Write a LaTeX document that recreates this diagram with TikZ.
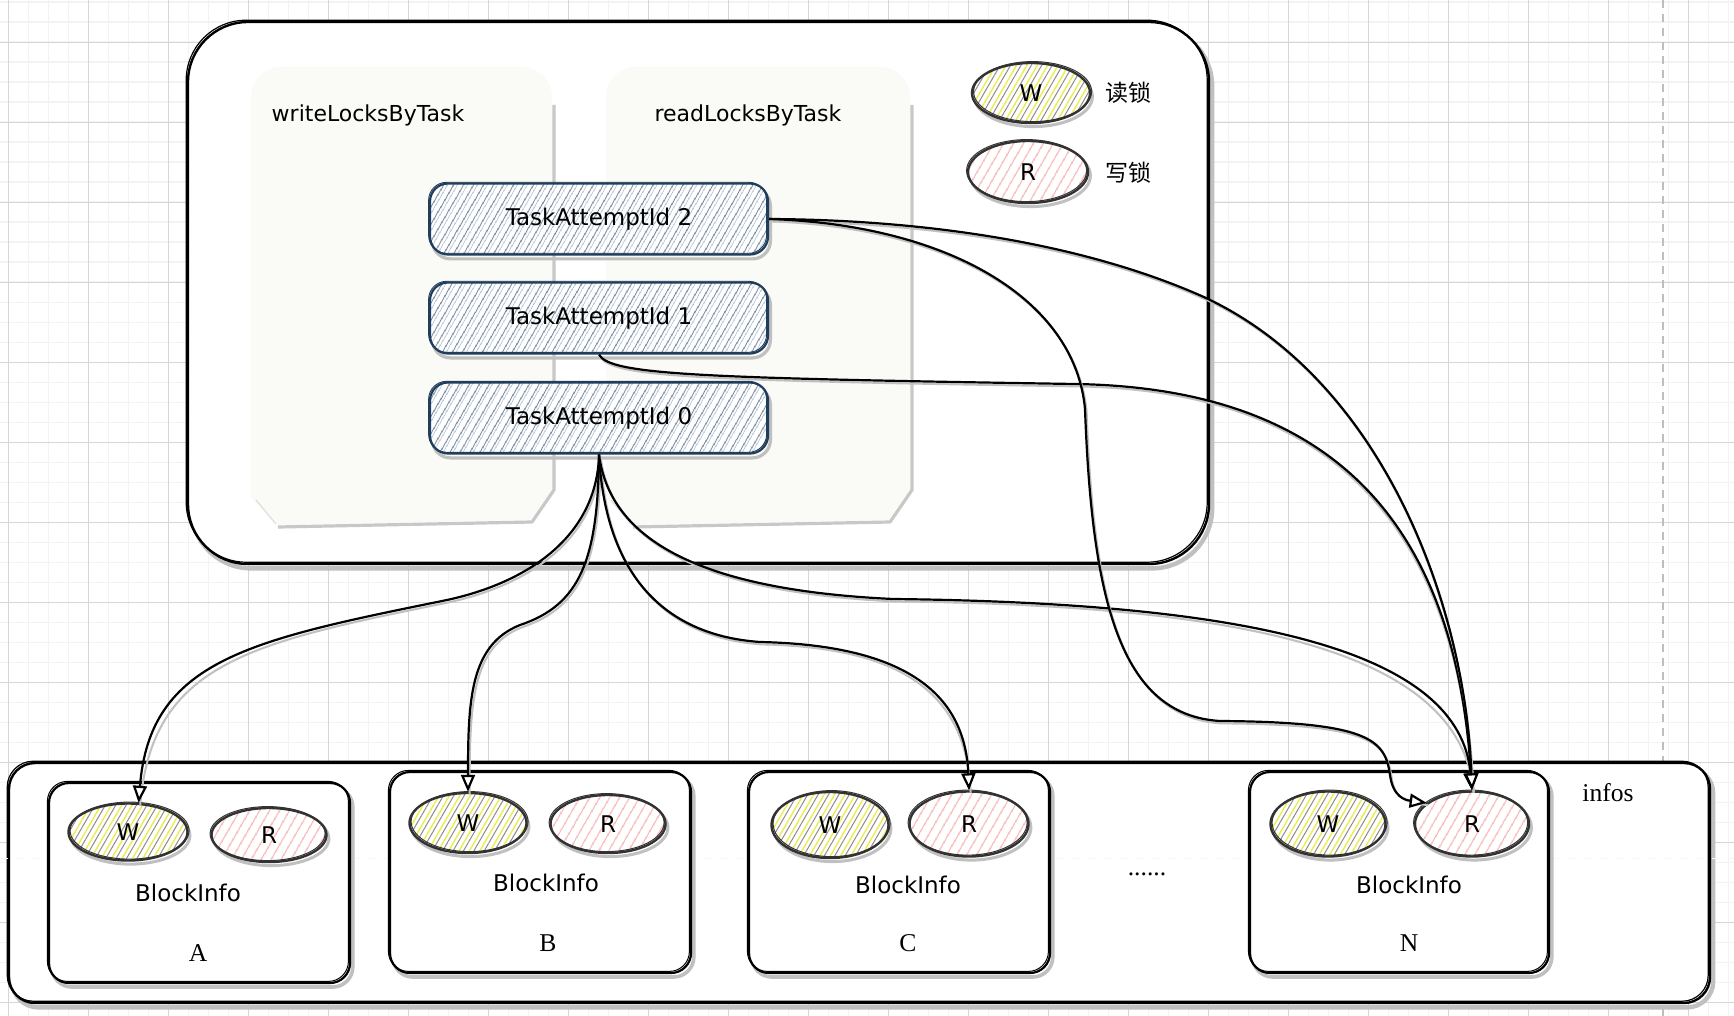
\documentclass[tikz,border=0pt]{standalone}
\usepackage{fontspec}
\setmainfont{DejaVu Sans}
\newfontfamily\seriffont{Liberation Serif}
\newfontfamily\cjkfont{Noto Sans CJK SC}
\usetikzlibrary{shapes.geometric,arrows.meta,patterns.meta}
\definecolor{gminor}{RGB}{243,243,243}
\definecolor{gfaint}{RGB}{247,247,247}
\definecolor{gmajor}{RGB}{214,214,214}
\definecolor{gdash}{RGB}{190,190,190}
\definecolor{panelbg}{RGB}{250,250,247}
\definecolor{panelsh}{RGB}{200,200,200}
\definecolor{tborder}{RGB}{32,62,92}
\definecolor{thatch}{RGB}{118,130,144}
\definecolor{thatch2}{RGB}{170,192,216}
\definecolor{yhatch}{RGB}{236,236,80}
\definecolor{ghatch}{RGB}{140,140,140}
\definecolor{rhatch}{RGB}{247,178,178}
\definecolor{eborder}{RGB}{50,50,50}
\definecolor{shade}{RGB}{192,192,192}
\begin{document}
\begin{tikzpicture}[x=0.5pt,y=-0.5pt,
 gmin/.style={draw=gminor,line width=0.8pt},
 gmaj/.style={draw=gmajor,line width=0.55pt},
 outerbox/.style={draw=black,line width=1.2pt,fill=white,inner sep=0,
   preaction={draw=shade,line width=2.2pt,transform canvas={shift={(1.6pt,-2.2pt)}}},
   postaction={draw=black,line width=0.6pt,transform canvas={shift={(-0.9pt,0.9pt)}}}},
 blockbox/.style={draw=black,line width=1.1pt,fill=white,rounded corners=10pt,inner sep=0,
   minimum width=150.5pt,minimum height=100.5pt,
   preaction={draw=shade,line width=1.8pt,transform canvas={shift={(1.4pt,-2pt)}}},
   postaction={draw=black,line width=0.5pt,transform canvas={shift={(-0.8pt,0.8pt)}}}},
 taskbox/.style={draw=tborder,line width=1.1pt,rounded corners=9pt,inner sep=0,
   minimum width=169pt,minimum height=35.5pt,font=\fontsize{11.5}{13}\selectfont,
   preaction={draw=shade,line width=1.6pt,transform canvas={shift={(1.2pt,-2.2pt)}}},
   preaction={fill=white},
   preaction={pattern={Lines[angle=60,distance=4pt,line width=0.55pt]},pattern color=thatch},
   preaction={pattern={Lines[angle=60,distance=4pt,xshift=1.6pt,line width=0.45pt]},pattern color=thatch2},
   postaction={draw=tborder,line width=0.45pt,transform canvas={shift={(-0.7pt,0.6pt)}}}},
 ellbase/.style={ellipse,draw=eborder,line width=1.2pt,inner sep=0,minimum width=58pt,minimum height=29pt,
   font=\fontsize{11.5}{13}\selectfont,
   preaction={draw=shade,line width=1.5pt,transform canvas={shift={(1.2pt,-1.8pt)}}},
   preaction={fill=white}},
 ellw/.style={ellbase,
   preaction={pattern={Lines[angle=60,distance=4.5pt,line width=0.7pt]},pattern color=yhatch},
   preaction={pattern={Lines[angle=60,distance=4.5pt,xshift=2.2pt,line width=0.5pt]},pattern color=ghatch},
   postaction={draw=eborder,line width=0.5pt,transform canvas={shift={(0.8pt,0.7pt)}}}},
 ellr/.style={ellbase,
   preaction={pattern={Lines[angle=60,distance=4pt,line width=0.6pt]},pattern color=rhatch},
   postaction={draw=eborder,line width=0.5pt,transform canvas={shift={(-0.7pt,0.7pt)}}}},
 lbl/.style={font=\fontsize{11}{13}\selectfont,inner sep=0},
 bilbl/.style={font=\fontsize{11.5}{13}\selectfont,inner sep=0},
 cjklbl/.style={font=\cjkfont\fontsize{11.5}{13}\selectfont,inner sep=0},
 seriflbl/.style={font=\seriffont\fontsize{12.8}{14}\selectfont,inner sep=0},
 conn/.style={draw=black,line width=1.1pt,-{Triangle[open,length=8.5pt,width=7pt,fill=white]},
   preaction={draw=shade,-,line width=1pt,transform canvas={shift={(0.8pt,-1.2pt)}}}}
]
\useasboundingbox (0,0) rectangle (1734,1016);
\fill[white] (0,0) rectangle (1734,1016);
% grid
\foreach \i in {0,...,86} {\draw[gmin] ({8.3+20*\i},0) -- ({8.3+20*\i},1016);}
\foreach \j in {0,...,50} {\draw[gmin] (0,{2.3+20*\j}) -- (1734,{2.3+20*\j});}
\foreach \i in {0,...,21} {\draw[gmaj] ({8.3+80*\i},0) -- ({8.3+80*\i},1016);}
\foreach \j in {0,...,12} {\draw[gmaj] (0,{42.3+80*\j}) -- (1734,{42.3+80*\j});}
\draw[gdash,line width=0.8pt,dash pattern=on 4pt off 3pt] (1663,0) -- (1663,1016);

% top container
\node[outerbox,rounded corners=30pt,minimum width=510.5pt,minimum height=271pt] (locks) at (698.5,293) {};

% panels
\fill[panelbg] (251,498) -- (251,97) arc(180:270:30) -- (522,67) arc(270:360:30) -- (552,490) -- (530,520) -- (278,525) -- cycle;
\draw[panelsh,line width=1.6pt,line join=round] (554,105) -- (554,490) -- (532,522) -- (278,527);
\draw[panelsh!60,line width=0.6pt] (256,500) -- (276,524);
\fill[panelbg] (606,498) -- (606,97) arc(180:270:30) -- (880,67) arc(270:360:30) -- (910,490) -- (888,520) -- (633,525) -- cycle;
\draw[panelsh,line width=1.6pt,line join=round] (912,105) -- (912,490) -- (890,522) -- (633,527);
\draw[panelsh!60,line width=0.6pt] (611,500) -- (631,524);

\node[lbl] (wl) at (368,115) {writeLocksByTask};
\node[lbl] (rl) at (748,115) {readLocksByTask};

% legend
\node[ellw,minimum width=59pt,minimum height=30pt] (lw) at (1031,93) {W};
\node[ellr,minimum width=60pt,minimum height=31pt] (lr) at (1028,172) {R};
\node[cjklbl] (lwt) at (1128,93) {读锁};
\node[cjklbl] (lrt) at (1128,173) {写锁};

% task boxes
\node[taskbox] (t2) at (599,219) {TaskAttemptId 2};
\node[taskbox] (t1) at (599,318) {TaskAttemptId 1};
\node[taskbox] (t0) at (599,418) {TaskAttemptId 0};

% infos container
\node[outerbox,rounded corners=13pt,minimum width=850.5pt,minimum height=120pt] (infos) at (859.5,883) {};
\draw[gfaint,line width=0.5pt,dash pattern=on 4pt off 4pt] (0,858) -- (1734,858);
\node[seriflbl] (infoslbl) at (1608,793) {infos};

% block boxes
\node[blockbox,minimum height=100pt] (ba) at (199.5,883) {};
\node[blockbox] (bb) at (540.5,872.5) {};
\node[blockbox] (bc) at (899.5,872.5) {};
\node[blockbox,minimum width=149.5pt] (bn) at (1399.5,872.5) {};

\node[ellw,minimum width=59.5pt,minimum height=28.5pt] (aw) at (128,832) {W};
\node[ellr,minimum width=57.5pt,minimum height=27pt] (ar) at (269,835) {R};
\node[ellw,minimum width=58.5pt,minimum height=30pt] (bw) at (468,823) {W};
\node[ellr,minimum width=57.5pt,minimum height=29pt] (br) at (608,824) {R};
\node[ellw,minimum width=58.5pt,minimum height=33pt] (cw) at (830,825) {W};
\node[ellr,minimum width=59.5pt,minimum height=32.5pt] (cr) at (969,824) {R};
\node[ellw,minimum width=57.5pt,minimum height=32.5pt] (nw) at (1328,824) {W};
\node[ellr,minimum width=57pt,minimum height=32.5pt] (nr) at (1472,824) {R};

\node[bilbl] (ia) at (188,893) {BlockInfo};
\node[bilbl] (ib) at (546,883) {BlockInfo};
\node[bilbl] (ic) at (908,885) {BlockInfo};
\node[bilbl] (in) at (1409,885) {BlockInfo};
\node[seriflbl] (la) at (198,953) {A};
\node[seriflbl] (lb) at (548,943) {B};
\node[seriflbl] (lc) at (908,943) {C};
\node[seriflbl] (ln) at (1409,943) {N};
\node[seriflbl] (dots) at (1147,874) {......};

% connectors
\draw[conn] (t0.south) .. controls (597,535) and (530,582) .. (447,600) .. controls (250,640) and (150,660) .. (aw.70);
\draw[conn] (t0.south) .. controls (598,560) and (580,605) .. (520,625) .. controls (470,645) and (468,700) .. (bw.north);
\draw[conn] (t0.south) .. controls (605,570) and (660,635) .. (760,642) .. controls (900,645) and (965,690) .. (cr.north);
\draw[conn] (t0.south) .. controls (610,540) and (700,590) .. (893,599) .. controls (1250,603) and (1460,650) .. (nr.north);
\draw[conn] (t1.south) .. controls (610,375) and (700,378) .. (1075,384) .. controls (1330,388) and (1455,520) .. (nr.north);
\draw[conn] (t2.east) .. controls (950,220) and (1100,250) .. (1206,298) .. controls (1380,380) and (1465,600) .. (nr.north);
\draw[conn] (t2.east) .. controls (950,225) and (1075,300) .. (1085,409) .. controls (1092,600) and (1120,715) .. (1220,721) .. controls (1370,722) and (1385,740) .. (1390,775) .. controls (1393,797) and (1405,800) .. (nr.155);
\end{tikzpicture}
\end{document}
